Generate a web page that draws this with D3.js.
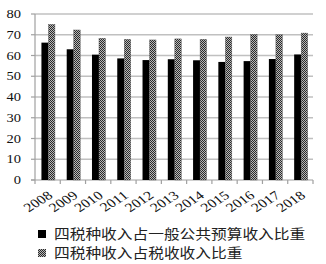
<!DOCTYPE html>
<html><head><meta charset="utf-8">
<script src="https://cdnjs.cloudflare.com/ajax/libs/d3/7.8.5/d3.min.js"></script>
<style>body{margin:0;background:#fff}svg{display:block}</style>
</head><body>
<script>
const years = ["2008","2009","2010","2011","2012","2013","2014","2015","2016","2017","2018"];
const shareGeneral = [66.2,63.0,60.4,58.6,57.8,58.2,57.7,56.9,57.3,58.3,60.5];
const shareTax = [75.0,72.3,68.3,67.8,67.5,68.0,67.8,68.9,70.2,70.0,70.8];
const yTicks = [0,10,20,30,40,50,60,70,80];
const legendLabels = ["四税种收入占一般公共预算收入比重","四税种收入占税收收入比重"];

const W=326,H=264, sx=1.26;
const svg=d3.select("body").append("svg").attr("width",W).attr("height",H);
const defs=svg.append("defs");
const pat=defs.append("pattern").attr("id","chk").attr("width",2).attr("height",2).attr("patternUnits","userSpaceOnUse");
pat.append("rect").attr("width",2).attr("height",2).attr("fill","#b8b8b8");
pat.append("rect").attr("width",1).attr("height",1).attr("fill","#2a2a2a");
pat.append("rect").attr("x",1).attr("y",1).attr("width",1).attr("height",1).attr("fill","#2a2a2a");

const x=d3.scaleBand().domain(years).range([35,313]);
const y=d3.scaleLinear().domain([0,80]).range([180,14]);

// gridlines
svg.append("g").selectAll("line").data(yTicks.slice(1)).join("line")
 .attr("x1",35).attr("x2",313).attr("y1",d=>y(d)).attr("y2",d=>y(d))
 .attr("stroke","#c0c0c0").attr("stroke-width",1.5);
svg.append("g").selectAll("line").data(yTicks).join("line")
 .attr("x1",31).attr("x2",35).attr("y1",d=>y(d)).attr("y2",d=>y(d))
 .attr("stroke","#a0a0a0").attr("stroke-width",1.2);
svg.append("line").attr("x1",35).attr("x2",35).attr("y1",y(80)).attr("y2",y(0)).attr("stroke","#a0a0a0").attr("stroke-width",1.2);
svg.append("line").attr("x1",31).attr("x2",313).attr("y1",y(0)).attr("y2",y(0)).attr("stroke","#a0a0a0").attr("stroke-width",1.2);
const bounds=years.map(d=>x(d)).concat([313]);
svg.append("g").selectAll("line").data(bounds).join("line")
 .attr("x1",d=>d).attr("x2",d=>d).attr("y1",180).attr("y2",184)
 .attr("stroke","#a0a0a0").attr("stroke-width",1.2);

// bars
const bw=7;
svg.append("g").selectAll("rect").data(years).join("rect")
 .attr("x",d=>x(d)+x.bandwidth()/2-bw+0.8).attr("width",bw)
 .attr("y",(d,i)=>y(shareGeneral[i])).attr("height",(d,i)=>y(0)-y(shareGeneral[i]))
 .attr("fill","#000");
svg.append("g").selectAll("rect").data(years).join("rect")
 .attr("x",d=>x(d)+x.bandwidth()/2+0.8).attr("width",bw-0.5)
 .attr("y",(d,i)=>y(shareTax[i])).attr("height",(d,i)=>y(0)-y(shareTax[i]))
 .attr("fill","url(#chk)").attr("stroke","#555").attr("stroke-width",0.4);

// y labels
svg.append("g").selectAll("text").data(yTicks).join("text")
 .attr("transform",d=>`translate(21,${y(d)+4}) scale(${sx},1)`)
 .attr("text-anchor","end").attr("font-family","Liberation Serif").attr("font-size",11.5)
 .attr("fill","#111").text(d=>d);

// x labels
svg.append("g").selectAll("text").data(years).join("text")
 .attr("transform",d=>`translate(${x(d)+x.bandwidth()/2+6},197) scale(${sx},1) rotate(-38)`)
 .attr("text-anchor","end").attr("font-family","Liberation Serif").attr("font-size",12.5)
 .attr("fill","#111").text(d=>d);

// legend
const lg=svg.append("g");
legendLabels.forEach((t,i)=>{
  const cy=i===0?234:253;
  lg.append("rect").attr("x",38).attr("y",cy-4).attr("width",8).attr("height",8)
    .attr("fill",i===0?"#000":"url(#chk)");
  lg.append("text").attr("x",54).attr("y",cy+5)
    .attr("textLength",t.length*15.7).attr("lengthAdjust","spacingAndGlyphs")
    .attr("font-family","Noto Sans CJK SC").attr("font-size",13.5).attr("fill","#222").text(t);
});
</script>
</body></html>
